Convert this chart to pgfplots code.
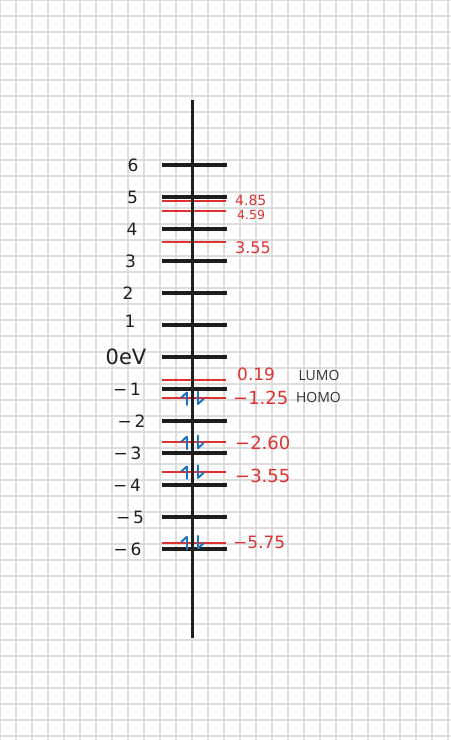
\documentclass[border=0pt]{standalone}
\usepackage{fontspec}
\setmainfont{DejaVu Sans}
\newfontfamily\ui{Open Sans}
\usepackage{pgfplots}
\pgfplotsset{compat=1.18}
\usetikzlibrary{arrows.meta}
\definecolor{ink}{HTML}{1E1E1E}
\definecolor{exred}{HTML}{E03131}
\definecolor{exblue}{HTML}{1971C2}
\definecolor{gridc}{HTML}{DDDDDD}
\definecolor{uitext}{HTML}{333333}
\begin{document}
\begin{tikzpicture}
% background grid (pixel coordinates)
\begin{axis}[at={(0,0)}, anchor=south west, scale only axis,
  width=451bp, height=740bp,
  xmin=0, xmax=451, ymin=0, ymax=740, y dir=reverse,
  xtick={0,16,...,448}, ytick={0,16,...,736},
  grid=major, major grid style={gridc, line width=1.6bp},
  axis line style={draw=none}, tick style={draw=none},
  xticklabels={}, yticklabels={}]
\addplot[draw=none, forget plot] coordinates {(0,0) (451,740)};
\end{axis}
% energy diagram (x in pixels, y in eV)
\begin{axis}[at={(0,0)}, anchor=south west, scale only axis,
  width=451bp, height=740bp,
  xmin=0, xmax=451, ymin=-11.96875, ymax=11.15625,
  hide axis, clip=false]
% orbital levels (red)
\pgfplotsinvokeforeach{4.88,4.57,3.58,-0.72,-1.29,-2.67,-3.60,-5.80}{
  \addplot[exred, line width=2bp, forget plot] coordinates {(161.7,#1) (225.5,#1)};
}
% scale ticks (black)
\pgfplotsinvokeforeach{6,5,4,3,2,1,0,-1,-2,-3,-4,-5,-6}{
  \addplot[ink, line width=3.3bp, forget plot] coordinates {(161.7,#1) (227,#1)};
}
% vertical axis
\addplot[ink, line width=3.3bp] coordinates {(192.3,8.03) (192.3,-8.78)};
% electrons
\addplot[exblue, line width=2bp, line cap=round, quiver={u=0, v=0.42},
  -{Straight Barb[harpoon, length=5bp, width=11bp, round]}]
  coordinates {(186.8,-1.50) (186.8,-2.88) (186.8,-3.81) (186.8,-6.01)};
\addplot[exblue, line width=2bp, line cap=round, quiver={u=0, v=-0.42},
  -{Straight Barb[harpoon, length=5bp, width=11bp, round]}]
  coordinates {(198.0,-1.08) (198.0,-2.46) (198.0,-3.39) (198.0,-5.59)};
% scale labels
\begin{scope}[every node/.style={text=ink, inner sep=0pt, anchor=center, font=\fontsize{17bp}{20bp}\selectfont}]
\node at (axis cs:133,6) {6};
\node at (axis cs:132.5,5) {5};
\node at (axis cs:132,4) {4};
\node at (axis cs:130.5,3) {3};
\node at (axis cs:128,2) {2};
\node at (axis cs:130,1.1) {1};
\node[font=\fontsize{21bp}{24bp}\selectfont] at (axis cs:126,0) {0eV};
\node at (axis cs:127,-1) {−\,1};
\node at (axis cs:131.5,-2) {−\,2};
\node at (axis cs:127.5,-3) {−\,3};
\node at (axis cs:127,-4) {−\,4};
\node at (axis cs:130,-5) {−\,5};
\node at (axis cs:127.5,-6) {−\,6};
\end{scope}
% level values
\begin{scope}[every node/.style={text=exred, inner sep=0pt, anchor=west, font=\fontsize{17bp}{20bp}\selectfont}]
\node[font=\fontsize{14bp}{16bp}\selectfont] at (axis cs:235,4.88) {4.85};
\node[font=\fontsize{12.5bp}{14bp}\selectfont] at (axis cs:237,4.43) {4.59};
\node[font=\fontsize{16bp}{18bp}\selectfont] at (axis cs:235,3.42) {3.55};
\node at (axis cs:237,-0.53) {0.19};
\node[font=\fontsize{18bp}{20bp}\selectfont] at (axis cs:233,-1.27) {−1.25};
\node[font=\fontsize{18bp}{20bp}\selectfont] at (axis cs:235,-2.70) {−2.60};
\node[font=\fontsize{18bp}{20bp}\selectfont] at (axis cs:235,-3.72) {−3.55};
\node at (axis cs:233,-5.80) {−5.75};
\end{scope}
% frontier orbital labels
\node[text=uitext, inner sep=0pt, anchor=center, font=\ui\fontsize{14bp}{16bp}\selectfont] at (axis cs:319,-0.59) {LUMO};
\node[text=uitext, inner sep=0pt, anchor=center, font=\ui\fontsize{14bp}{16bp}\selectfont] at (axis cs:318.5,-1.27) {HOMO};
\end{axis}
\pgfresetboundingbox
\path[use as bounding box] (0,0) rectangle (451bp,740bp);
\end{tikzpicture}
\end{document}
